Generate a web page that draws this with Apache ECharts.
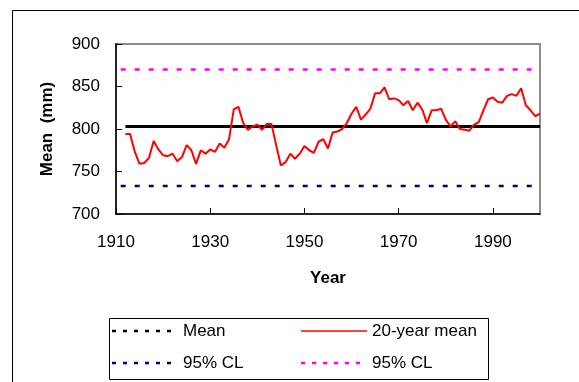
<!DOCTYPE html>
<html>
<head>
<meta charset="utf-8">
<script src="https://cdn.jsdelivr.net/npm/echarts@6/dist/echarts.min.js"></script>
<style>
html,body{margin:0;padding:0;background:#fff;}
#c{width:579px;height:382px;}
</style>
</head>
<body>
<div id="c"></div>
<script>
// ---- data ----
var startYear = 1912;
var rolling20 = [
  794, 794, 773, 759, 760, 766, 786, 776, 769, 768,
  771, 762, 767, 781, 775, 759, 775, 771, 776, 773,
  783, 778, 788, 823, 826, 807, 799, 803, 805, 799,
  806, 806, 781, 757, 761, 771, 765, 771, 780, 775,
  772, 785, 788, 777, 796, 797, 800, 807, 818, 826,
  811, 817, 824, 842, 842, 849, 835, 836, 834, 828,
  833, 822, 831, 823, 807, 822, 822, 824, 811, 803,
  809, 800, 799, 798, 805, 808, 822, 835, 837, 832,
  831, 839, 841, 839, 848, 828, 822, 815, 818
];
var years = rolling20.map(function (v, i) { return startYear + i; });
var overallMean = 803;
var clLower = 733;
var clUpper = 870;
var meanSpan = [1912, 2000];
var clSpan = [1911, 2000];
var xTicks = [1910, 1930, 1950, 1970, 1990];
var yTicks = [700, 750, 800, 850, 900];
var legendNames = ['Mean', '20-year mean', '95% CL', '95% CL'];

var FONT = "'Liberation Sans', Arial, sans-serif";
var chart = echarts.init(document.getElementById('c'));

function flat(span, v) { return span.map(function (x) { return [x, v]; }); }

// legend drawn as graphic (two columns, two rows)
var legendItems = [
  { text: legendNames[0], color: '#000', dash: [4, 7], x: 112, y: 331 },
  { text: legendNames[1], color: '#ff0000', dash: null, x: 301, y: 331 },
  { text: legendNames[2], color: '#000080', dash: [4, 7], x: 112, y: 363 },
  { text: legendNames[3], color: '#ff00ff', dash: [4, 7], x: 301, y: 363 }
];
var legendGraphics = [];
legendItems.forEach(function (it) {
  legendGraphics.push({
    type: 'line', silent: true,
    shape: { x1: it.x, y1: it.y, x2: it.x + 66, y2: it.y },
    style: { stroke: it.color, lineWidth: it.dash ? 2.5 : 1.5, lineDash: it.dash || null }
  });
  legendGraphics.push({
    type: 'text', silent: true, x: it.x + 71, y: it.y,
    style: { text: it.text, fill: '#000', font: '17px ' + FONT, textVerticalAlign: 'middle', verticalAlign: 'middle' }
  });
});

var option = {
  backgroundColor: '#ffffff',
  animation: false,
  textStyle: { fontFamily: FONT },
  grid: {
    left: 116, top: 44, right: 39, bottom: 168,
    show: true, borderColor: '#8c8c8c', borderWidth: 2, backgroundColor: 'transparent'
  },
  xAxis: {
    type: 'value',
    min: xTicks[0], max: 2000, interval: 20,
    name: 'Year', nameLocation: 'middle', nameGap: 56,
    nameTextStyle: { fontFamily: FONT, fontSize: 17, fontWeight: 'bold', color: '#000' },
    axisLine: { onZero: false, lineStyle: { color: '#000', width: 1.5 } },
    axisTick: { inside: true, length: 6, lineStyle: { color: '#000', width: 1 } },
    axisLabel: {
      margin: 20, fontSize: 17, color: '#000', fontFamily: FONT, showMaxLabel: false,
      formatter: function (v) { return String(v); }
    },
    splitLine: { show: false }
  },
  yAxis: {
    type: 'value',
    min: yTicks[0], max: yTicks[yTicks.length - 1], interval: 50,
    name: 'Mean  (mm)', nameLocation: 'middle', nameGap: 60,
    nameTextStyle: { fontFamily: FONT, fontSize: 17, fontWeight: 'bold', color: '#000' },
    axisLine: { onZero: false, lineStyle: { color: '#000', width: 1.5 } },
    axisTick: { inside: true, length: 6, lineStyle: { color: '#000', width: 1 } },
    axisLabel: { margin: 16, fontSize: 17, color: '#000', fontFamily: FONT },
    splitLine: { show: false }
  },
  graphic: [
    { type: 'rect', left: 10, top: 8, shape: { width: 620, height: 420 }, style: { fill: 'none', stroke: '#000', lineWidth: 1 }, z: -1, silent: true },
    { type: 'rect', left: 107, top: 316, shape: { width: 379, height: 61 }, style: { fill: 'none', stroke: '#000', lineWidth: 1 }, z: -1, silent: true }
  ].concat(legendGraphics),
  series: [
    {
      name: 'Mean', type: 'line', symbol: 'none',
      data: flat(meanSpan, overallMean),
      lineStyle: { color: '#000', width: 3, type: 'solid' }
    },
    {
      name: '20-year mean', type: 'line', symbol: 'none',
      data: years.map(function (y, i) { return [y, rolling20[i]]; }),
      lineStyle: { color: '#ff0000', width: 2 }
    },
    {
      name: 'CL lower', type: 'line', symbol: 'none',
      data: flat(clSpan, clLower),
      lineStyle: { color: '#000080', width: 2.5, type: [5, 9] }
    },
    {
      name: 'CL upper', type: 'line', symbol: 'none',
      data: flat(clSpan, clUpper),
      lineStyle: { color: '#ff00ff', width: 2.5, type: [5, 9] }
    }
  ]
};
chart.setOption(option);
</script>
</body>
</html>
